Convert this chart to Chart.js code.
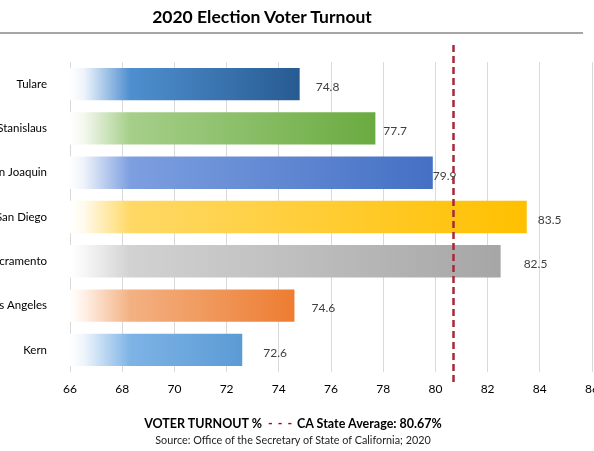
<!DOCTYPE html>
<html>
<head>
<meta charset="utf-8">
<script src="https://cdn.jsdelivr.net/npm/chart.js@4/dist/chart.umd.min.js"></script>
<style>
  html,body{margin:0;padding:0;background:#fff;}
  body{width:594px;height:451px;position:relative;overflow:hidden;font-family:Lato,'Open Sans',sans-serif;color:#000;}
  #title{position:absolute;left:0;width:524px;top:6px;text-align:center;font-weight:bold;font-size:17.5px;}
  #rule{position:absolute;left:0;top:32px;width:583px;height:2px;background:#a6a6a6;}
  #wrap{position:absolute;left:0;top:0;width:594px;height:451px;}
  #legend{position:absolute;left:0;width:586px;top:416px;text-align:center;font-weight:bold;font-size:12.5px;}
  #legend .dash{color:#c00000;letter-spacing:1px;margin:0 4px 0 6px;}
  #source{position:absolute;left:0;width:586px;top:433px;text-align:center;font-size:10.8px;color:#222;}
</style>
</head>
<body>
<div id="wrap"><canvas id="turnout" width="594" height="451"></canvas></div>
<div id="title">2020 Election Voter Turnout</div>
<div id="rule"></div>
<div id="legend">VOTER TURNOUT %<span class="dash">- - -</span>CA State Average: 80.67%</div>
<div id="source">Source: Office of the Secretary of State of California; 2020</div>
<script>
const counties = ['Tulare','Stanislaus','San Joaquin','San Diego','Sacramento','Los Angeles','Kern'];
const turnout = [74.8, 77.7, 79.9, 83.5, 82.5, 74.6, 72.6];
const stateAverage = 80.67;
const xTicks = [66, 68, 70, 72, 74, 76, 78, 80, 82, 84, 86];

// light / mid / end colour for each bar's fade
const barShades = [
  ['#eef4fb', '#4f8fd0', '#275b91'],
  ['#f3f8ee', '#a6cf8a', '#6aab40'],
  ['#eef2fa', '#7d9fe0', '#4470c4'],
  ['#fffaeb', '#ffd966', '#ffc000'],
  ['#f7f7f7', '#d2d2d2', '#a6a6a6'],
  ['#fff0e6', '#f3b183', '#ed7d31'],
  ['#eef5fc', '#7eb3e6', '#5b9bd5']
];
// gap between each bar end and its value label
const labelPad = [16, 8, 0, 11, 23, 17, 21];

function barFill(ctx){
  const chart = ctx.chart;
  const area = chart.chartArea;
  const shade = barShades[ctx.dataIndex];
  if(!area) return shade[2];
  const x = chart.scales.x;
  const end = x.getPixelForValue(turnout[ctx.dataIndex]);
  const left = area.left;
  const len = Math.max(end - left, 1);
  const g = chart.ctx.createLinearGradient(left, 0, end, 0);
  g.addColorStop(0, '#ffffff');
  g.addColorStop(Math.min(14/len, 1), shade[0]);
  g.addColorStop(Math.min(60/len, 1), shade[1]);
  g.addColorStop(1, shade[2]);
  return g;
}

// value labels sit under the grid, as in the printed chart
const valueLabels = {
  id: 'valueLabels',
  beforeDatasetsDraw(chart){
    const c = chart.ctx;
    const meta = chart.getDatasetMeta(0);
    c.save();
    c.font = '12px Lato, "Open Sans", sans-serif';
    c.fillStyle = '#404040';
    c.textBaseline = 'middle';
    meta.data.forEach((bar, i) => {
      c.fillText(turnout[i].toFixed(1), bar.x + labelPad[i], bar.y + 3);
    });
    c.restore();
  }
};

// state average as a red dashed marker running past the plot
const averageLine = {
  id: 'averageLine',
  afterDatasetsDraw(chart){
    const c = chart.ctx;
    const x = Math.round(chart.scales.x.getPixelForValue(stateAverage)) + 0.5;
    c.save();
    c.strokeStyle = '#a8283c';
    c.lineWidth = 2.5;
    c.setLineDash([7, 4]);
    c.beginPath();
    c.moveTo(x, 45);
    c.lineTo(x, chart.chartArea.bottom + 10);
    c.stroke();
    c.restore();
  }
};

new Chart(document.getElementById('turnout'), {
  type: 'bar',
  data: {
    labels: counties,
    datasets: [{
      data: turnout,
      backgroundColor: barFill,
      borderWidth: 0,
      barPercentage: 0.73,
      categoryPercentage: 1
    }]
  },
  options: {
    indexAxis: 'y',
    responsive: false,
    animation: false,
    devicePixelRatio: 1,
    layout: {padding: {top: 62, right: 2, left: 0, bottom: 0}},
    plugins: {legend: {display: false}, tooltip: {enabled: false}},
    scales: {
      x: {
        min: 66, max: 86,
        afterBuildTicks: s => { s.ticks = xTicks.map(v => ({value: v})); },
        afterFit: s => { s.height = 79; s.paddingLeft = 0; s.paddingRight = 0; },
        grid: {color: '#d9d9d9', drawTicks: false},
        border: {display: false},
        ticks: {padding: 10, color: '#000', font: {family: 'Lato, "Open Sans", sans-serif', size: 12}}
      },
      y: {
        afterFit: s => { s.width = 70; },
        grid: {display: false},
        border: {display: false},
        ticks: {padding: 15, color: '#000', font: {family: 'Lato, "Open Sans", sans-serif', size: 11.5}}
      }
    }
  },
  plugins: [valueLabels, averageLine]
});
</script>
</body>
</html>
